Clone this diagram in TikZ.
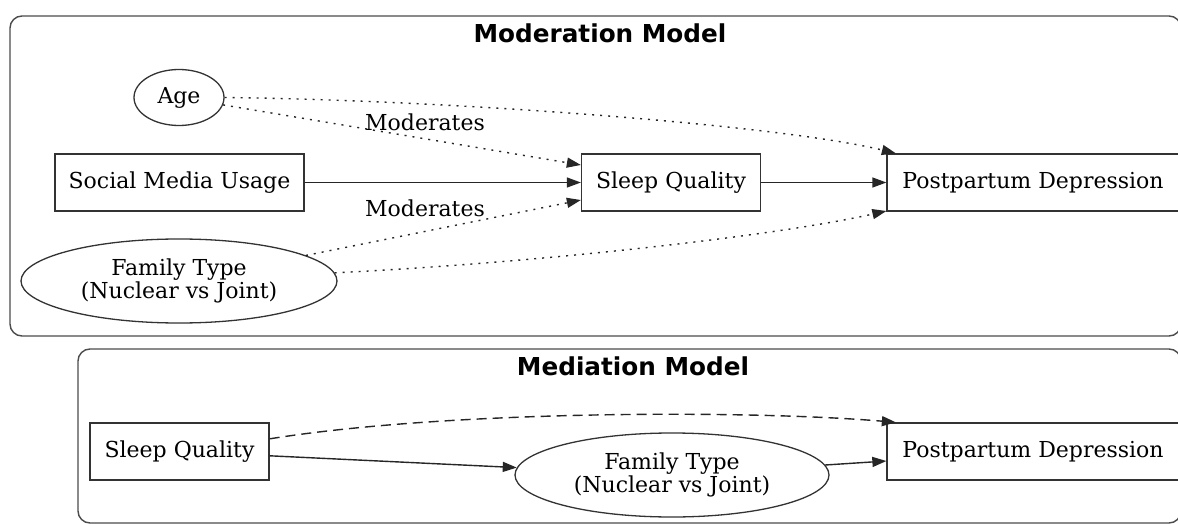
\documentclass[tikz,border=0pt]{standalone}
\usepackage{fontspec}
\setmainfont{DejaVu Serif}
\newfontfamily\titlefont{DejaVu Sans}
\usetikzlibrary{shapes.geometric,arrows.meta,calc}
\tikzset{
  boxnode/.style={draw=black!80, line width=1.3pt, rectangle, inner sep=0pt, minimum height=57pt, font=\fontsize{22}{23}\selectfont},
  ellnode/.style={draw=black!80, line width=1.3pt, ellipse, inner sep=0pt, align=center, font=\fontsize{22}{23}\selectfont},
  cluster/.style={draw=black!70, line width=1.4pt, rounded corners=12pt},
  titletext/.style={font=\titlefont\bfseries\fontsize{24.7}{28}\selectfont},
  lbl/.style={font=\fontsize{22}{23}\selectfont, inner sep=0pt},
  edge/.style={draw=black!85, line width=1.4pt, -{Triangle[length=14pt,width=10pt]}},
  dotedge/.style={edge, dash pattern=on 2pt off 6pt},
  dashedge/.style={edge, dash pattern=on 10pt off 6pt},
}
\begin{document}
\begin{tikzpicture}[x=1pt,y=-1pt]
\clip (0,0) rectangle (1178,524);
\fill[white] (0,0) rectangle (1178,524);
% clusters
\draw[cluster] (10,16) rectangle (1181,336);
\node[titletext] (t1) at (600,33) {Moderation Model};
\draw[cluster] (78,349) rectangle (1181,523);
\node[titletext] (t2) at (633,366) {Mediation Model};
% moderation nodes
\node[ellnode, minimum width=90pt, minimum height=56pt] (age) at (179,97.5) {Age};
\node[boxnode, minimum width=249pt] (smu) at (179.5,182.5) {Social Media Usage};
\node[ellnode, minimum width=316pt, minimum height=84pt] (ft1) at (179,281) {Family Type\\(Nuclear vs Joint)};
\node[boxnode, minimum width=179pt] (sq1) at (671,182.5) {Sleep Quality};
\node[boxnode, minimum width=292pt] (ppd1) at (1033,182.5) {Postpartum Depression};
% moderation edges
\draw[dotedge] (age) -- (sq1.169);
\node[lbl] (m1) at (425,122) {Moderates};
\draw[dotedge] (age.east) .. controls (450,100) and (780,125) .. (ppd1.168.5);
\draw[edge] (smu) -- (sq1);
\draw[dotedge] (ft1) -- (sq1.191);
\node[lbl] (m2) at (425,208) {Moderates};
\draw[dotedge] (ft1.3) .. controls (550,262) and (780,235) .. (ppd1.191.5);
\draw[edge] (sq1) -- (ppd1);
% mediation nodes
\node[boxnode, minimum width=179pt] (sq2) at (179.5,451.5) {Sleep Quality};
\node[ellnode, minimum width=314pt, minimum height=84pt] (ft2) at (672,475) {Family Type\\(Nuclear vs Joint)};
\node[boxnode, minimum width=292pt] (ppd2) at (1033,451.5) {Postpartum Depression};
% mediation edges
\draw[edge] (sq2) -- (ft2);
\draw[edge] (ft2) -- (ppd2);
\draw[dashedge] (sq2.8) .. controls (450,410) and (750,410) .. (ppd2.168.5);
\end{tikzpicture}
\end{document}
